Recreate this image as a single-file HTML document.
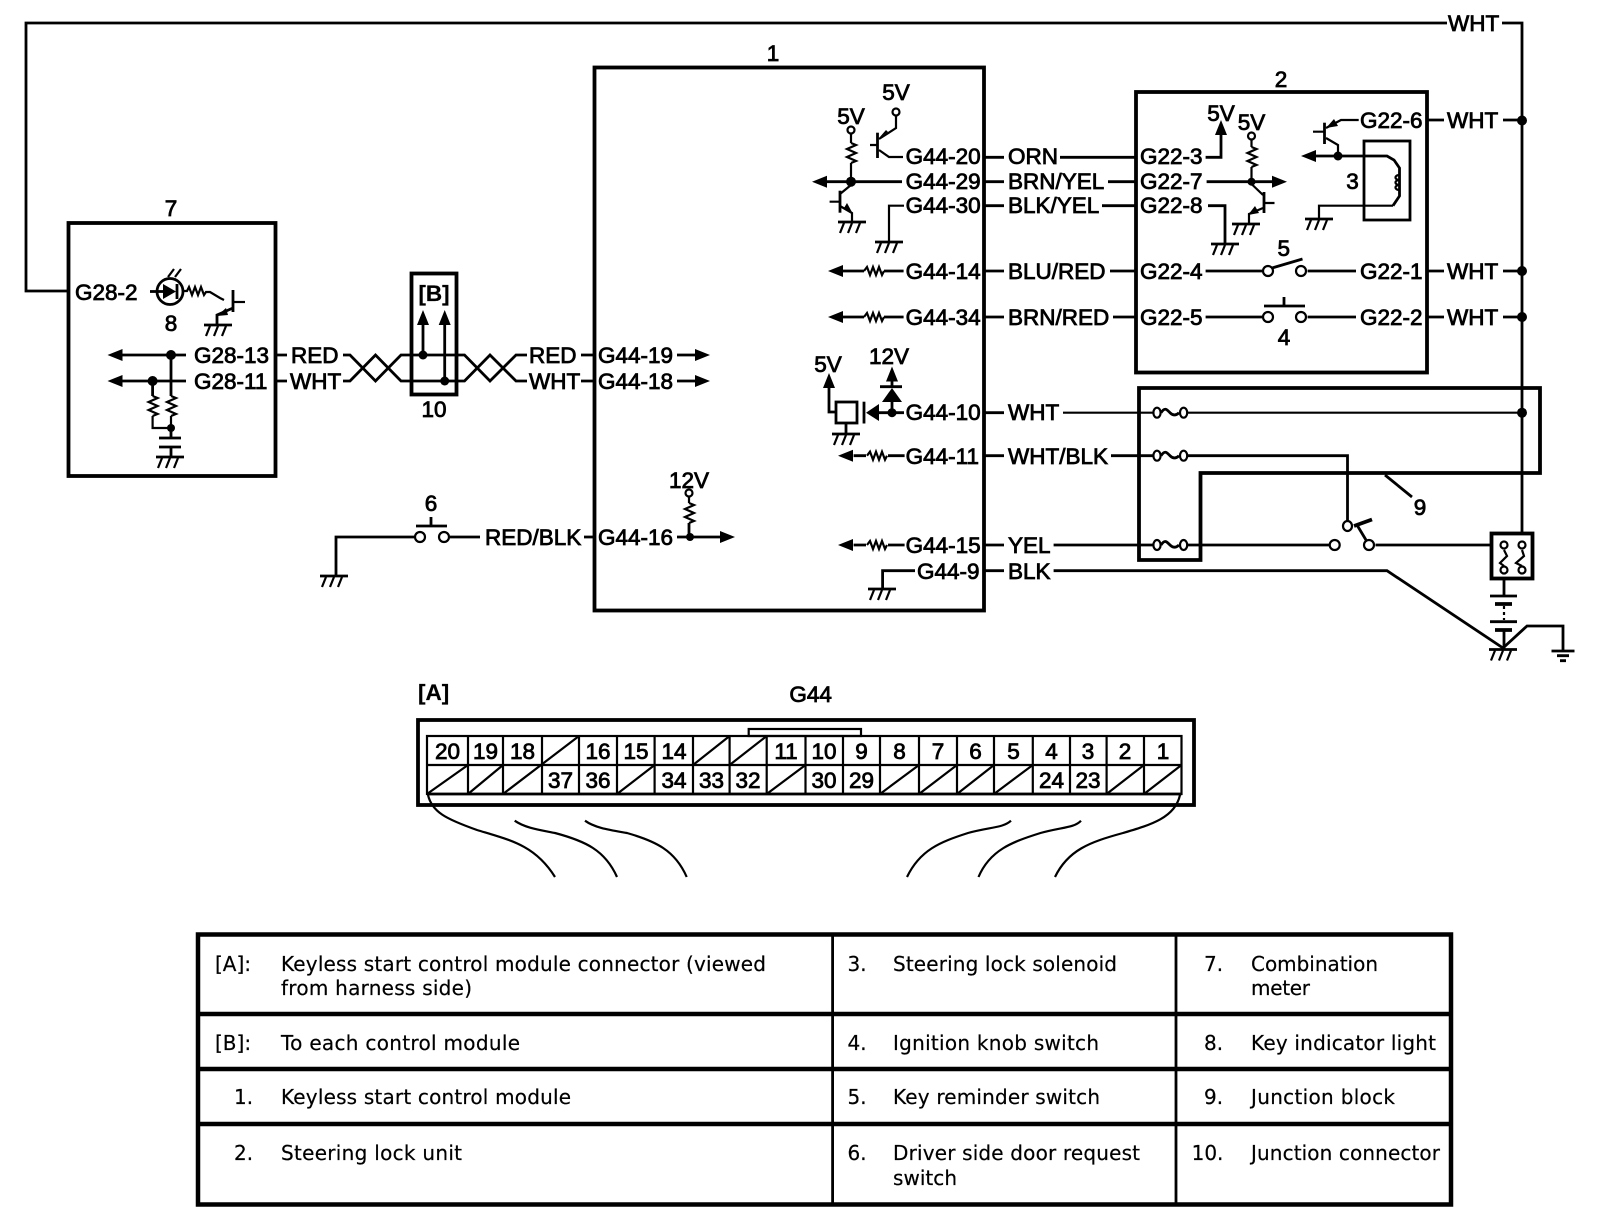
<!DOCTYPE html>
<html><head><meta charset="utf-8"><style>
html,body{margin:0;padding:0;background:#fff}
svg{display:block}
.l{font:22.5px "Liberation Sans",sans-serif;fill:#000;stroke:#000;stroke-width:.8}
.c{text-anchor:middle}
.b{font-weight:bold;stroke-width:.2}
.t{font:20px "DejaVu Sans",sans-serif;fill:#000;stroke:#000;stroke-width:.2}
.w{fill:none;stroke:#000;stroke-width:2.8}
.n{fill:none;stroke:#000;stroke-width:2.2}
.k{fill:none;stroke:#000;stroke-width:3.8}
.f{fill:#000;stroke:none}
.o{fill:#fff;stroke:#000;stroke-width:2.2}
</style></head><body>
<svg xmlns="http://www.w3.org/2000/svg" width="1600" height="1218" viewBox="0 0 1600 1218">
<defs>
<g id="g"><path class="w" d="M-14 0H14"/><path class="n" d="M-8 1L-12 11M0 1L-4 11M8 1L4 11"/></g>
<path id="r" class="n" d="M0 0l5 2-9 4 9 4-9 4 9 4-5 2"/>
<path id="h" class="n" d="M0 0l3-4 3 8 3-8 3 8 3-8 3 8 2-4"/>
<polygon id="al" class="f" points="0,0 15,-6 15,6"/>
<polygon id="ar" class="f" points="0,0 -15,-6 -15,6"/>
<polygon id="au" class="f" points="0,0 -6,15 6,15"/>
<g id="fz"><path class="w" d="M4 0c4-6 6-3 9 0s6 3 9 0"/><ellipse class="o" cx="0" cy="0" rx="3.6" ry="5"/><ellipse class="o" cx="26.6" cy="0" rx="3.6" ry="5"/></g>
</defs>

<!-- Top wire and bus -->
<path class="w" d="M1447 23H26V291H68"/>
<path class="w" d="M1502 23H1522V533"/>
<text class="l" x="1448" y="31">WHT</text>
<circle class="f" cx="1522" cy="120.500" r="5"/><circle class="f" cx="1522" cy="271" r="5"/><circle class="f" cx="1522" cy="317" r="5"/><circle class="f" cx="1522" cy="412.700" r="5"/>

<!-- Box 7 -->
<rect class="k" x="68.500" y="223" width="207" height="253"/>
<text class="l c" x="171" y="216">7</text>
<text class="l" x="75" y="300">G28-2</text>
<text class="l c" x="171" y="331">8</text>
<path class="w" d="M150 291.500H163"/>
<circle class="n" cx="170" cy="291.500" r="13" style="stroke-width:2.8"/>
<polygon class="f" points="163,284 176,291.500 163,299"/><path class="w" d="M177 284V299"/>
<path class="n" d="M168 277l6-8M175 277l6-8"/>
<path class="n" d="M184 291h3l2-4 3 8 3-8 3 8 3-8 3 8 2-3h4l10 6 4 2"/>
<path class="w" d="M233 290V312"/><path class="n" d="M233 302H245"/>
<path class="w" d="M233 308L217 315V325"/>
<polygon class="f" points="217,316 226,308 228,315"/>
<use href="#g" x="218" y="325"/>
<text class="l" x="194" y="363">G28-13</text><text class="l" x="194" y="389">G28-11</text>
<path class="w" d="M122 355H186M122 381H186M171 355V396M152.600 381V396M275 355H287M275 381H287"/>
<use href="#al" x="107.500" y="355"/><use href="#al" x="107.500" y="381"/>
<circle class="f" cx="171" cy="355" r="5"/><circle class="f" cx="152.600" cy="381" r="5"/>
<use href="#r" x="171" y="396"/><use href="#r" x="152.600" y="396"/>
<path class="n" d="M171 416V428M152.600 416V428H171"/><circle class="f" cx="171" cy="428" r="4"/>
<path class="w" d="M171 428V438M159 438H181M159 447H181M171 447V457"/>
<use href="#g" x="170" y="457"/>

<!-- Twisted pair -->
<text class="l" x="291" y="363">RED</text><text class="l" x="290" y="389">WHT</text>
<path class="w" d="M343 355H350L375.500 381L401 355H464.500L490 381L516 355H527"/>
<path class="w" d="M343 381H350L375.500 355L401 381H464.500L490 355L516 381H527"/>
<rect class="k" x="411.500" y="273.500" width="45" height="121"/>
<text class="l c b" x="434" y="301">[B]</text>
<path class="w" d="M423 355V322M444.700 381V322"/>
<use href="#au" x="423" y="310"/><use href="#au" x="444.700" y="310"/>
<circle class="f" cx="423" cy="355" r="4.500"/><circle class="f" cx="444.700" cy="381" r="4.500"/>
<text class="l c" x="434" y="417">10</text>
<text class="l" x="529" y="363">RED</text><text class="l" x="529" y="389">WHT</text>
<path class="w" d="M581 355H594M581 381H594M677 355H695M677 381H695"/>
<use href="#ar" x="710" y="355"/><use href="#ar" x="710" y="381"/>

<!-- Module 1 -->
<rect class="k" x="594.500" y="67.500" width="389.500" height="543"/>
<text class="l c" x="773" y="61">1</text>
<text class="l" x="598" y="363">G44-19</text><text class="l" x="598" y="389">G44-18</text>
<text class="l" x="598" y="545">G44-16</text>

<!-- Switch 6 -->
<path class="w" d="M336 575V537H414M450 537H480M584 537H594"/>
<use href="#g" x="334" y="576"/>
<circle class="o" cx="420" cy="537" r="5"/><circle class="o" cx="444" cy="537" r="5"/>
<path class="w" d="M416 526H447M431 517V526"/>
<text class="l c" x="431" y="511">6</text>
<text class="l" x="485" y="545">RED/BLK</text>
<text class="l c" x="689" y="488">12V</text>
<circle class="o" cx="689" cy="493" r="3.500"/>
<path class="n" d="M689 497V503"/><use href="#r" x="689" y="503"/>
<path class="w" d="M689 523V537H677M677 537H720"/>
<circle class="f" cx="690" cy="537" r="4"/><use href="#ar" x="735" y="537"/>

<!-- Module 1 internal right side -->
<text class="l c" x="896" y="100">5V</text>
<circle class="o" cx="896" cy="112" r="3.500"/>
<path class="n" d="M896 116V128L879 139"/>
<path class="w" d="M877.500 132.700V158"/><path class="n" d="M870 145H877.500M879 150L889 157H903"/>
<polygon class="f" points="879,138 888,132 886,130"/>
<text class="l c" x="851" y="124">5V</text>
<circle class="o" cx="851" cy="130" r="3.500"/>
<path class="n" d="M851 134V143"/><use href="#r" x="851" y="143"/><path class="n" d="M851 163V182"/>
<path class="w" d="M825 181.700H902"/><use href="#al" x="812" y="181.700"/>
<circle class="f" cx="851" cy="181.700" r="5"/>
<path class="w" d="M840 190.700V212.700"/><path class="n" d="M829.600 201.700H840M851 185L840 194M840 206L852 213V222"/>
<polygon class="f" points="853,214 844,208 847,203"/>
<use href="#g" x="852" y="222"/>
<path class="n" d="M904 205.700H889V242"/><use href="#g" x="889" y="242"/>

<text class="l" x="905.600" y="164">G44-20</text>
<text class="l" x="905.600" y="189">G44-29</text>
<text class="l" x="905.600" y="213">G44-30</text>
<text class="l" x="905.600" y="279">G44-14</text>
<text class="l" x="905.600" y="325">G44-34</text>
<text class="l" x="905.600" y="420">G44-10</text>
<text class="l" x="905.600" y="464">G44-11</text>
<text class="l" x="905.600" y="553">G44-15</text>
<text class="l" x="917" y="579">G44-9</text>

<path class="w" d="M984 157.300H1004M984 181.700H1004M984 205.700H1004M984 271H1004M984 317H1004M984 412.700H1004M984 455.700H1004M984 545H1004M984 570.700H1004"/>
<text class="l" x="1008" y="164">ORN</text>
<text class="l" x="1008" y="189">BRN/YEL</text>
<text class="l" x="1008" y="213">BLK/YEL</text>
<text class="l" x="1008" y="279">BLU/RED</text>
<text class="l" x="1008" y="325">BRN/RED</text>
<text class="l" x="1008" y="420">WHT</text>
<text class="l" x="1008" y="464">WHT/BLK</text>
<text class="l" x="1008" y="553">YEL</text>
<text class="l" x="1008" y="579">BLK</text>

<!-- Resistive arrows -->
<path class="w" d="M843 271H864M884 271H903.600M843 317H864M884 317H903.600M853.600 455.700H866M888 455.700H904.600M853.600 545H866M888 545H904.600"/>
<use href="#h" x="864" y="271"/><use href="#h" x="864" y="317"/><use href="#h" x="867" y="455.700"/><use href="#h" x="867" y="545"/>
<use href="#al" x="828" y="271"/><use href="#al" x="828" y="317"/><use href="#al" x="838" y="455.700"/><use href="#al" x="838" y="545"/>

<!-- G44-10 group -->
<text class="l c" x="828" y="372">5V</text><text class="l c" x="889" y="364">12V</text>
<path class="w" d="M829 387V412H836M892 376V388M880 386.700H902M879 412.700H904"/>
<use href="#au" x="829" y="373"/><use href="#au" x="892" y="366.500"/>
<polygon class="f" points="892,388 882,402 902,402"/>
<path class="w" d="M892 401V412"/>
<circle class="f" cx="892" cy="412.700" r="4.500"/>
<polygon class="f" points="866,412.700 879,404 879,421"/>
<path class="w" d="M864 401.700V423.500"/>
<rect x="836" y="402" width="21" height="21" class="w"/>
<path class="w" d="M846 423V434"/><use href="#g" x="846" y="434"/>

<!-- G44-9 ground -->
<path class="w" d="M915 570.700H882.600V589"/><use href="#g" x="882" y="589"/>

<!-- Box 2 -->
<rect class="k" x="1136" y="92" width="291" height="280.500"/>
<text class="l c" x="1281" y="87">2</text>
<text class="l" x="1140" y="164">G22-3</text><text class="l" x="1140" y="189">G22-7</text><text class="l" x="1140" y="213">G22-8</text>
<text class="l" x="1140" y="279">G22-4</text><text class="l" x="1140" y="325">G22-5</text>
<text class="l" x="1360" y="128">G22-6</text><text class="l" x="1360" y="279">G22-1</text><text class="l" x="1360" y="325">G22-2</text>
<path class="w" d="M1060 157.300H1136M1108 181.700H1136M1102 205.700H1136M1110 271H1136M1113 317H1136"/>
<path class="w" d="M1205.600 157.300H1221V133"/><use href="#au" x="1221" y="120"/>
<text class="l c" x="1221" y="121">5V</text>
<text class="l c" x="1251.500" y="130">5V</text>
<circle class="o" cx="1251.500" cy="136" r="3.500"/><path class="n" d="M1251.500 140V147"/>
<use href="#r" x="1251.500" y="147"/><path class="n" d="M1251.500 167V181"/>
<path class="w" d="M1206.600 181.700H1272"/><use href="#ar" x="1287" y="181.700"/>
<circle class="f" cx="1251.500" cy="181.700" r="4"/>
<path class="w" d="M1264 192V213"/><path class="n" d="M1264 203H1274.500M1251.500 184L1263 195M1263 208L1249 214V224"/>
<polygon class="f" points="1248,215 1255,206 1259,213"/>
<use href="#g" x="1246" y="224"/>
<path class="w" d="M1208 205.700H1225V244"/><use href="#g" x="1225" y="244"/>
<path class="w" d="M1324.500 122.700V144"/><path class="n" d="M1313 131.700H1324.500M1358.700 120H1341L1326 128M1326 138L1338 145V156"/>
<polygon class="f" points="1326,128 1334,119 1338,126"/>
<use href="#al" x="1301" y="156"/>
<path class="w" d="M1315 156H1387L1394 160L1399.500 168V196L1393 205.700"/>
<circle class="f" cx="1338" cy="156" r="4.500"/>
<path class="n" d="M1393 205.700H1319V219"/><use href="#g" x="1319" y="219"/>
<path class="n" d="M1399.500 175a4 2.500 0 1 0 0 5a4 2.500 0 1 0 0 5a4 2.500 0 1 0 0 5"/>
<rect x="1364" y="141" width="46" height="79" fill="none" stroke="#000" stroke-width="2.800"/>
<text class="l c" x="1352.500" y="189">3</text>
<text class="l c" x="1283.700" y="256">5</text>
<path class="w" d="M1205.600 271H1262M1307.600 271H1356M1272 268L1302.500 259"/>
<circle class="o" cx="1268" cy="271" r="5"/><circle class="o" cx="1301" cy="271" r="5"/>
<path class="w" d="M1205.600 317H1262M1307.600 317H1356M1264 306H1305M1284 297V306"/>
<circle class="o" cx="1268" cy="317" r="5"/><circle class="o" cx="1301" cy="317" r="5"/>
<text class="l c" x="1284" y="345">4</text>
<path class="w" d="M1427 120H1444M1427 271H1444M1427 317H1444M1503 120H1522M1503 271H1522M1503 317H1522"/>
<text class="l" x="1447" y="128">WHT</text><text class="l" x="1447" y="279">WHT</text><text class="l" x="1447" y="325">WHT</text>

<!-- Junction block 9 -->
<path class="k" d="M1139 388H1540V473H1200.500V560H1139Z"/>
<text class="l c" x="1420" y="515">9</text>
<path class="w" d="M1385 475L1412 497"/>
<path class="n" d="M1063 412.700H1154M1188 412.700H1522"/>
<path class="w" d="M1111 455.700H1154M1188 455.700H1347.500V521"/>
<path class="w" d="M1053.600 545H1154M1188 545H1329M1375.500 545H1491"/>
<use href="#fz" x="1157" y="412.700"/><use href="#fz" x="1157" y="455.700"/><use href="#fz" x="1157" y="545"/>
<circle class="o" cx="1334.700" cy="545" r="5"/><circle class="o" cx="1369" cy="545" r="5"/>
<ellipse class="o" cx="1347.500" cy="526" rx="4.500" ry="5"/>
<path class="w" d="M1357 525L1366 540"/><path class="k" d="M1354 526L1372 519.500"/>

<!-- Relay & battery -->
<rect class="k" x="1491.500" y="533.500" width="41" height="45"/>
<path class="n" d="M1504 550L1507 556L1500 563L1504 566M1522 550L1524 556L1516 563L1522 566"/>
<circle class="o" cx="1504" cy="545" r="3.500"/><circle class="o" cx="1504" cy="570" r="3.500"/>
<circle class="o" cx="1522" cy="545" r="3.500"/><circle class="o" cx="1522" cy="570" r="3.500"/>
<path class="w" d="M1504 579V596M1490 596H1517M1490 621.700H1517"/>
<path class="k" d="M1495 604H1512M1495 630H1512"/>
<path class="n" d="M1504 606V620" stroke-dasharray="3 3"/>
<path class="w" d="M1504 631V649"/><use href="#g" x="1503" y="649.500"/>
<path class="w" d="M1053.600 570.700H1387L1503 648L1527 626H1563V651"/>
<path class="w" d="M1551.500 651H1574.500M1557 655.700H1569M1560 660.700H1566"/>

<!-- Connector A -->
<text class="l b" x="418" y="700">[A]</text>
<text class="l c" x="810.600" y="702">G44</text>
<rect class="k" x="418" y="720" width="776" height="85"/>
<rect x="748.700" y="729" width="112.300" height="7" fill="none" stroke="#000" stroke-width="2.200"/>
<rect x="427" y="736" width="754.500" height="58" fill="none" stroke="#000" stroke-width="2.200"/>
<path class="n" d="M427 765H1181.500"/><path class="w" d="M427 794H1181.500"/>
<path class="n" d="M468 736V794M503 736V794M542 736V794M579 736V794M617 736V794M654.600 736V794M693 736V794M729.600 736V794M766.700 736V794M805.500 736V794M843 736V794M880 736V794M919 736V794M957 736V794M994 736V794M1032.800 736V794M1070 736V794M1106.600 736V794M1144 736V794"/>
<path class="n" d="M503 794L579 736M693 765L729.600 736M729.600 765L766.700 736M427 794L468 765M468 794L503 765M617 794L654.600 765M766.700 794L805.500 765M880 794L919 765M919 794L957 765M957 794L994 765M994 794L1032.800 765M1106.600 794L1144 765M1144 794L1181.500 765"/>
<g>
<text class="l c" x="447.500" y="759">20</text><text class="l c" x="485.500" y="759">19</text><text class="l c" x="522.500" y="759">18</text><text class="l c" x="598" y="759">16</text><text class="l c" x="636" y="759">15</text><text class="l c" x="674" y="759">14</text><text class="l c" x="786" y="759">11</text><text class="l c" x="824" y="759">10</text><text class="l c" x="861.500" y="759">9</text><text class="l c" x="899.500" y="759">8</text><text class="l c" x="938" y="759">7</text><text class="l c" x="975.500" y="759">6</text><text class="l c" x="1013.500" y="759">5</text><text class="l c" x="1051.500" y="759">4</text><text class="l c" x="1088" y="759">3</text><text class="l c" x="1125" y="759">2</text><text class="l c" x="1163" y="759">1</text>
<text class="l c" x="560.500" y="788">37</text><text class="l c" x="598" y="788">36</text><text class="l c" x="674" y="788">34</text><text class="l c" x="711.500" y="788">33</text><text class="l c" x="748" y="788">32</text><text class="l c" x="824" y="788">30</text><text class="l c" x="861.500" y="788">29</text><text class="l c" x="1051.500" y="788">24</text><text class="l c" x="1088" y="788">23</text>
</g>
<path class="n" d="M428 795C432 812 446 819 477 830C510 840 535 845 555 877M514.700 820.700C525 828 540 830 555 833C585 841 605 850 617 877M585 820.700C595 828 610 830 627 833C655 841 675 850 686.700 877M907 877C920 850 940 842 968 833C990 827 1003 828 1011 820.700M978.500 877C990 850 1012 842 1040.500 833C1062 827 1074 828 1081 820.700M1055 877C1068 850 1090 842 1123 833C1150 825 1175 818 1180 795"/>

<!-- Table -->
<rect x="198" y="934.500" width="1253" height="270" fill="none" stroke="#000" stroke-width="4.500"/>
<path fill="none" stroke="#000" stroke-width="4.500" d="M197 1014H1452M197 1069H1452M197 1124H1452"/>
<path fill="none" stroke="#000" stroke-width="2.800" d="M832.600 935V1205M1176 935V1205"/>
<text class="t" x="215" y="971">[A]:</text>
<text class="t" x="281" y="971" textLength="485">Keyless start control module connector (viewed</text>
<text class="t" x="281" y="995" textLength="191">from harness side)</text>
<text class="t" x="215" y="1050">[B]:</text>
<text class="t" x="281" y="1050" textLength="239">To each control module</text>
<text class="t" x="234" y="1104">1.</text>
<text class="t" x="281" y="1104" textLength="290">Keyless start control module</text>
<text class="t" x="234" y="1160">2.</text>
<text class="t" x="281" y="1160" textLength="181">Steering lock unit</text>
<text class="t" x="847.500" y="971">3.</text>
<text class="t" x="893" y="971" textLength="224">Steering lock solenoid</text>
<text class="t" x="847.500" y="1050">4.</text>
<text class="t" x="893" y="1050" textLength="206">Ignition knob switch</text>
<text class="t" x="847.500" y="1104">5.</text>
<text class="t" x="893" y="1104" textLength="207">Key reminder switch</text>
<text class="t" x="847.500" y="1160">6.</text>
<text class="t" x="893" y="1160" textLength="247">Driver side door request</text>
<text class="t" x="893" y="1185" textLength="64">switch</text>
<text class="t" x="1204" y="971">7.</text>
<text class="t" x="1251" y="971" textLength="127">Combination</text>
<text class="t" x="1251" y="995" textLength="59">meter</text>
<text class="t" x="1204" y="1050">8.</text>
<text class="t" x="1251" y="1050" textLength="185">Key indicator light</text>
<text class="t" x="1204" y="1104">9.</text>
<text class="t" x="1251" y="1104" textLength="144">Junction block</text>
<text class="t" x="1191.600" y="1160">10.</text>
<text class="t" x="1251" y="1160" textLength="189">Junction connector</text>
</svg>
</body></html>
